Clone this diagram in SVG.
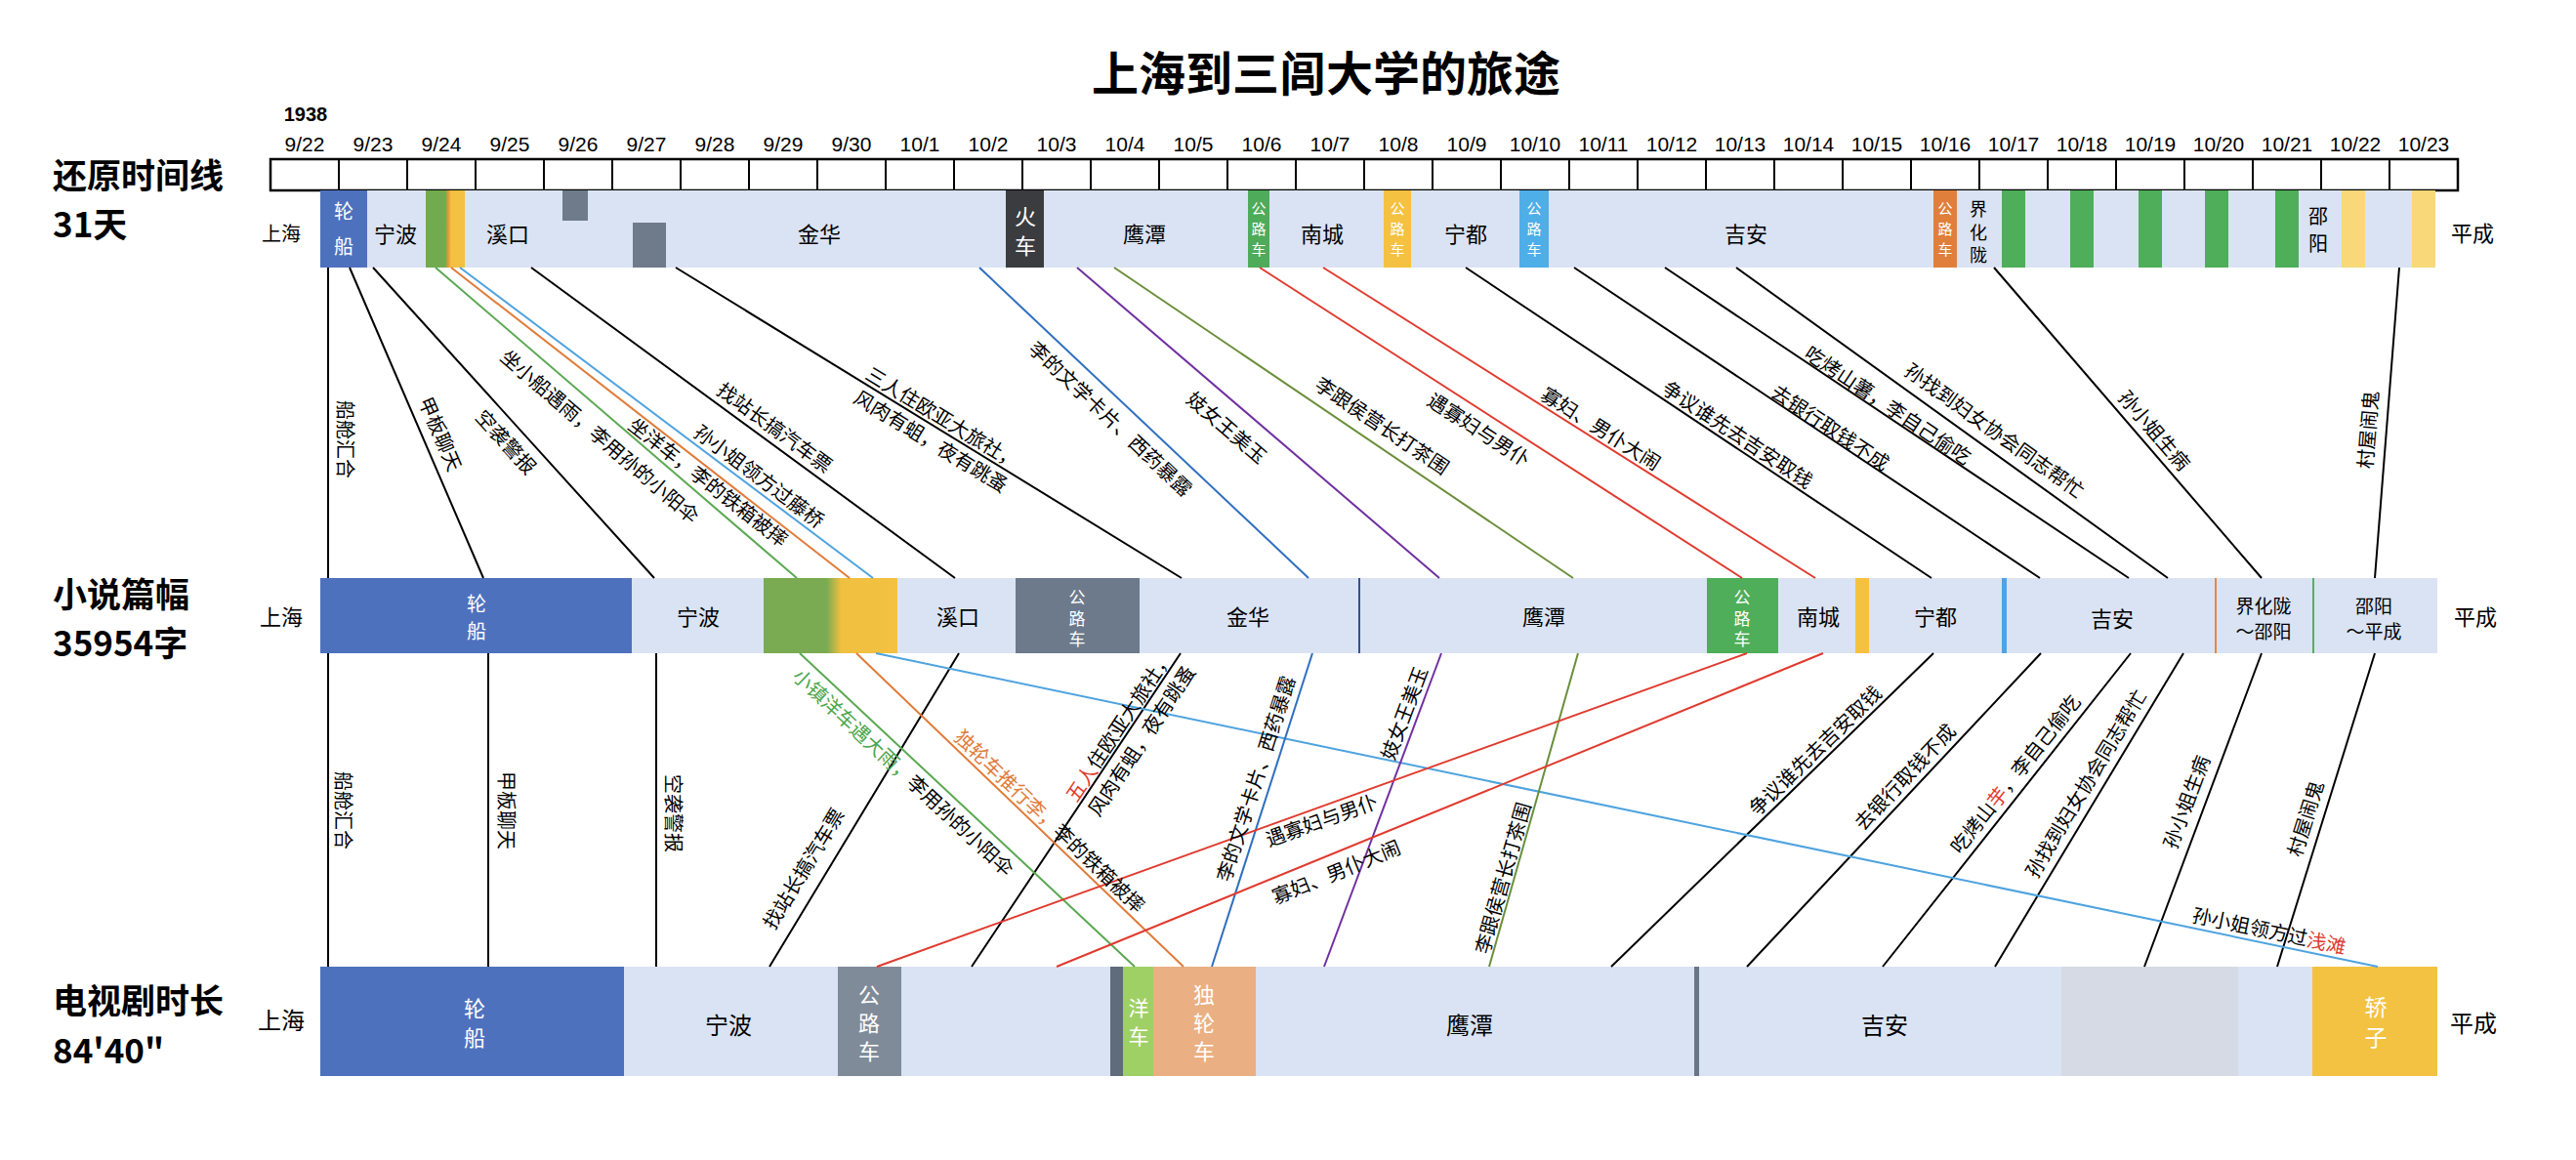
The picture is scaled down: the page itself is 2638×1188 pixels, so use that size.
<svg xmlns="http://www.w3.org/2000/svg" width="2638" height="1188" viewBox="0 0 2638 1188">
<style>
text{font-family:"Noto Sans CJK SC","Liberation Sans",sans-serif;fill:#000}
.c{text-anchor:middle;dominant-baseline:central}
.l{font-size:20px;text-anchor:middle;dominant-baseline:central}
.p{font-size:22px}
.w{fill:#fff}
.d{font-family:"Liberation Sans",sans-serif;font-size:21px}
.h{font-size:35px;font-weight:700;dominant-baseline:central}
.band{fill:#dae3f3}
.k{stroke:#000;stroke-width:2;fill:none}
.gr{stroke:#5aa852;stroke-width:2;fill:none}
.or{stroke:#e07b39;stroke-width:2;fill:none}
.lb{stroke:#4ea3df;stroke-width:2;fill:none}
.db{stroke:#2f6fbf;stroke-width:2;fill:none}
.pu{stroke:#7030a0;stroke-width:2;fill:none}
.ol{stroke:#6b8e3a;stroke-width:2;fill:none}
.rd{stroke:#e03a2e;stroke-width:2;fill:none}
.red{fill:#e03a2e}
</style>
<defs>
<linearGradient id="gy" x1="0" x2="1" y1="0" y2="0">
<stop offset="0" stop-color="#72ab4f"/><stop offset="0.5" stop-color="#72ab4f"/><stop offset="0.58" stop-color="#e39a3a"/><stop offset="0.65" stop-color="#f4c142"/><stop offset="1" stop-color="#f4c142"/>
</linearGradient>
<linearGradient id="gy2" x1="0" x2="1" y1="0" y2="0">
<stop offset="0" stop-color="#7aab52"/><stop offset="0.47" stop-color="#7aab52"/><stop offset="0.58" stop-color="#f0c040"/><stop offset="1" stop-color="#f4c142"/>
</linearGradient>
</defs>
<rect width="2638" height="1188" fill="#fff"/>

<g id="title"><text x="1358" y="72" class="c" style="font-size:48px;font-weight:700">上海到三闾大学的旅途</text></g>

<g id="row-labels">
<text x="54" y="177" class="h">还原时间线</text>
<text x="54" y="227" class="h">31天</text>
<text x="54" y="606" class="h">小说篇幅</text>
<text x="54" y="656" class="h">35954字</text>
<text x="54" y="1022" class="h">电视剧时长</text>
<text x="54" y="1073" class="h">84'40"</text>
</g>

<g id="timeline-axis">
<text x="313" y="117" class="c" style="font-family:'Liberation Sans',sans-serif;font-size:20px;font-weight:700">1938</text>
<rect x="277" y="163" width="2240" height="32" fill="#fff" stroke="#000" stroke-width="2.5"/>
<path class="k" d="M347 163V195M417 163V195M487 163V195M557 163V195M627 163V195M697 163V195M767 163V195M837 163V195M907 163V195M977 163V195M1047 163V195M1117 163V195M1187 163V195M1257 163V195M1327 163V195M1397 163V195M1467 163V195M1537 163V195M1607 163V195M1677 163V195M1747 163V195M1817 163V195M1887 163V195M1957 163V195M2027 163V195M2097 163V195M2167 163V195M2237 163V195M2307 163V195M2377 163V195M2447 163V195"/>
<g>
<text x="312" y="147" class="c d">9/22</text><text x="382" y="147" class="c d">9/23</text><text x="452" y="147" class="c d">9/24</text><text x="522" y="147" class="c d">9/25</text><text x="592" y="147" class="c d">9/26</text><text x="662" y="147" class="c d">9/27</text><text x="732" y="147" class="c d">9/28</text><text x="802" y="147" class="c d">9/29</text><text x="872" y="147" class="c d">9/30</text>
<text x="942" y="147" class="c d">10/1</text><text x="1012" y="147" class="c d">10/2</text><text x="1082" y="147" class="c d">10/3</text><text x="1152" y="147" class="c d">10/4</text><text x="1222" y="147" class="c d">10/5</text><text x="1292" y="147" class="c d">10/6</text><text x="1362" y="147" class="c d">10/7</text><text x="1432" y="147" class="c d">10/8</text><text x="1502" y="147" class="c d">10/9</text><text x="1572" y="147" class="c d">10/10</text><text x="1642" y="147" class="c d">10/11</text><text x="1712" y="147" class="c d">10/12</text><text x="1782" y="147" class="c d">10/13</text><text x="1852" y="147" class="c d">10/14</text><text x="1922" y="147" class="c d">10/15</text><text x="1992" y="147" class="c d">10/16</text><text x="2062" y="147" class="c d">10/17</text><text x="2132" y="147" class="c d">10/18</text><text x="2202" y="147" class="c d">10/19</text><text x="2272" y="147" class="c d">10/20</text><text x="2342" y="147" class="c d">10/21</text><text x="2412" y="147" class="c d">10/22</text><text x="2482" y="147" class="c d">10/23</text>
</g>
</g>

<g id="row1-timeline">
<rect class="band" x="328" y="195" width="2166" height="79"/>
<text x="288" y="238" class="c" style="font-size:20px">上海</text>
<rect x="328" y="195" width="48" height="79" fill="#4e71be"/>
<text class="c w" style="font-size:20px"><tspan x="352" y="215">轮</tspan><tspan x="352" y="251">船</tspan></text>
<text x="405" y="238" class="c p">宁波</text>
<rect x="436" y="195" width="40" height="79" fill="url(#gy)"/>
<text x="520" y="238" class="c p">溪口</text>
<rect x="576" y="195" width="26" height="31" fill="#6f7b8a"/>
<rect x="648" y="228" width="34" height="46" fill="#6f7b8a"/>
<text x="839" y="238" class="c p">金华</text>
<rect x="1030" y="195" width="39" height="79" fill="#3b3c40"/>
<text class="c w p"><tspan x="1050" y="220">火</tspan><tspan x="1050" y="250">车</tspan></text>
<text x="1172" y="238" class="c p">鹰潭</text>
<rect x="1278" y="195" width="22" height="79" fill="#4eab5a"/>
<text class="c w" style="font-size:15px"><tspan x="1289" y="212">公</tspan><tspan x="1289" y="233">路</tspan><tspan x="1289" y="254">车</tspan></text>
<text x="1354" y="238" class="c p">南城</text>
<rect x="1417" y="195" width="28" height="79" fill="#f5c140"/>
<text class="c w" style="font-size:15px"><tspan x="1431" y="212">公</tspan><tspan x="1431" y="233">路</tspan><tspan x="1431" y="254">车</tspan></text>
<text x="1501" y="238" class="c p">宁都</text>
<rect x="1556" y="195" width="30" height="79" fill="#4eaee8"/>
<text class="c w" style="font-size:15px"><tspan x="1571" y="212">公</tspan><tspan x="1571" y="233">路</tspan><tspan x="1571" y="254">车</tspan></text>
<text x="1788" y="238" class="c p">吉安</text>
<rect x="1980" y="195" width="24" height="79" fill="#e07f3c"/>
<text class="c w" style="font-size:15px"><tspan x="1992" y="212">公</tspan><tspan x="1992" y="233">路</tspan><tspan x="1992" y="254">车</tspan></text>
<text class="c" style="font-size:18px"><tspan x="2026" y="213">界</tspan><tspan x="2026" y="237">化</tspan><tspan x="2026" y="260">陇</tspan></text>
<rect x="2050" y="195" width="24" height="79" fill="#4fae5a"/>
<rect x="2120" y="195" width="24" height="79" fill="#4fae5a"/>
<rect x="2190" y="195" width="24" height="79" fill="#4fae5a"/>
<rect x="2258" y="195" width="24" height="79" fill="#4fae5a"/>
<rect x="2330" y="195" width="24" height="79" fill="#4fae5a"/>
<text class="c" style="font-size:20px"><tspan x="2374" y="220">邵</tspan><tspan x="2374" y="248">阳</tspan></text>
<rect x="2398" y="195" width="24" height="79" fill="#f8d878"/>
<rect x="2470" y="195" width="24" height="79" fill="#f8d878"/>
<text x="2532" y="237" class="c" style="font-size:22px">平成</text>
</g>

<g id="row2-novel">
<rect class="band" x="328" y="592" width="2168" height="77"/>
<text x="288" y="630" class="c p">上海</text>
<rect x="328" y="592" width="319" height="77" fill="#4e71be"/>
<text class="c w" style="font-size:20px"><tspan x="488" y="617">轮</tspan><tspan x="488" y="645">船</tspan></text>
<text x="715" y="630" class="c p">宁波</text>
<rect x="782" y="592" width="137" height="77" fill="url(#gy2)"/>
<text x="981" y="630" class="c p">溪口</text>
<rect x="1040" y="592" width="127" height="77" fill="#6c7a8b"/>
<text class="c w" style="font-size:17px"><tspan x="1103" y="610">公</tspan><tspan x="1103" y="632">路</tspan><tspan x="1103" y="653">车</tspan></text>
<text x="1278" y="630" class="c p">金华</text>
<rect x="1391" y="592" width="2" height="77" fill="#34508e"/>
<text x="1581" y="630" class="c p">鹰潭</text>
<rect x="1748" y="592" width="73" height="77" fill="#4fae5a"/>
<text class="c w" style="font-size:17px"><tspan x="1784" y="610">公</tspan><tspan x="1784" y="632">路</tspan><tspan x="1784" y="653">车</tspan></text>
<text x="1862" y="630" class="c p">南城</text>
<rect x="1900" y="592" width="14" height="77" fill="#f5c140"/>
<text x="1982" y="630" class="c p">宁都</text>
<rect x="2050" y="592" width="5" height="77" fill="#4ea3e4"/>
<text x="2163" y="632" class="c p">吉安</text>
<rect x="2268" y="592" width="2" height="77" fill="#e9873e"/>
<text class="c" style="font-size:19px"><tspan x="2318" y="619">界化陇</tspan><tspan x="2318" y="645">～邵阳</tspan></text>
<rect x="2368" y="592" width="2" height="77" fill="#5aae5e"/>
<text class="c" style="font-size:19px"><tspan x="2431" y="619">邵阳</tspan><tspan x="2431" y="645">～平成</tspan></text>
<text x="2535" y="630" class="c p">平成</text>
</g>

<g id="row3-tv">
<rect class="band" x="328" y="990" width="2168" height="112"/>
<text x="288" y="1043" class="c" style="font-size:24px">上海</text>
<rect x="328" y="990" width="311" height="112" fill="#4e71be"/>
<text class="c w" style="font-size:22px"><tspan x="486" y="1031">轮</tspan><tspan x="486" y="1061">船</tspan></text>
<text x="746" y="1048" class="c" style="font-size:24px">宁波</text>
<rect x="858" y="990" width="65" height="112" fill="#808b99"/>
<text class="c w" style="font-size:22px"><tspan x="890" y="1017">公</tspan><tspan x="890" y="1046">路</tspan><tspan x="890" y="1075">车</tspan></text>
<rect x="1137" y="990" width="13" height="112" fill="#606b7b"/>
<rect x="1150" y="990" width="31" height="112" fill="#9fd066"/>
<text class="c w" style="font-size:21px"><tspan x="1166" y="1031">洋</tspan><tspan x="1166" y="1060">车</tspan></text>
<rect x="1181" y="990" width="105" height="112" fill="#eab083"/>
<text class="c w" style="font-size:22px"><tspan x="1233" y="1017">独</tspan><tspan x="1233" y="1046">轮</tspan><tspan x="1233" y="1075">车</tspan></text>
<text x="1505" y="1048" class="c" style="font-size:24px">鹰潭</text>
<rect x="1735" y="990" width="5" height="112" fill="#6a7585"/>
<text x="1930" y="1048" class="c" style="font-size:24px">吉安</text>
<rect x="2111" y="990" width="181" height="112" fill="#d5dae4"/>
<rect x="2368" y="990" width="128" height="112" fill="#f4c242"/>
<text class="c w" style="font-size:23px"><tspan x="2433" y="1030">轿</tspan><tspan x="2433" y="1061">子</tspan></text>
<text x="2533" y="1046" class="c" style="font-size:24px">平成</text>
</g>

<g id="connectors">
<path class="k" d="M336 274L336 592M358 274L495 592M382 274L670 592M544 274L978 592M692 274L1210 592M1501 274L1978 592M1612 274L2089 592M1705 274L2180 592M1778 274L2220 592M2042 274L2316 592M2457 274L2432 592"/>
<path class="gr" d="M446 274L816 592"/>
<path class="or" d="M462 274L870 592"/>
<path class="lb" d="M471 274L894 592"/>
<path class="db" d="M1003 274L1340 592"/>
<path class="pu" d="M1103 274L1474 592"/>
<path class="ol" d="M1141 274L1611 592"/>
<path class="rd" d="M1290 274L1784 592M1355 274L1859 592"/>
<path class="k" d="M336 669L336 990M500 669L500 990M672 669L672 990M982 669L788 990M1209 669L995 990M1980 669L1650 990M2090 669L1789 990M2182 669L1928 990M2236 669L2043 990M2316 669L2196 990M2432 669L2332 990"/>
<path class="gr" d="M819 669L1162 990"/>
<path class="or" d="M877 669L1212 990"/>
<path class="lb" d="M897 669L2435 990"/>
<path class="db" d="M1344 669L1241 990"/>
<path class="pu" d="M1476 669L1356 990"/>
<path class="ol" d="M1616 669L1525 990"/>
<path class="rd" d="M1789 669L898 990M1867 669L1082 990"/>
</g>

<g id="upper-labels">
<text x="354" y="450" class="l" transform="rotate(90 354 450)">船舱汇合</text>
<text x="452" y="444" class="l" transform="rotate(66.7 452 444)">甲板聊天</text>
<text x="519" y="452" class="l" transform="rotate(47.8 519 452)">空袭警报</text>
<text x="615" y="446" class="l" transform="rotate(40.7 615 446)">坐小船遇雨，李用孙的小阳伞</text>
<text x="726" y="493" class="l" transform="rotate(37.9 726 493)">坐洋车，李的铁箱被摔</text>
<text x="778" y="487" class="l" transform="rotate(36.9 778 487)">孙小姐领方过藤桥</text>
<text x="794" y="437" class="l" transform="rotate(36.2 794 437)">找站长搞汽车票</text>
<text x="966" y="427" class="l" transform="rotate(31.5 966 427)">三人住欧亚大旅社，</text>
<text x="954" y="451" class="l" transform="rotate(31.5 954 451)">风肉有蛆，夜有跳蚤</text>
<text x="1138" y="428" class="l" transform="rotate(43.3 1138 428)">李的文学卡片、西药暴露</text>
<text x="1257" y="437" class="l" transform="rotate(40.6 1257 437)">妓女王美玉</text>
<text x="1416" y="435" class="l" transform="rotate(34.1 1416 435)">李跟侯营长打茶围</text>
<text x="1515" y="439" class="l" transform="rotate(32.8 1515 439)">遇寡妇与男仆</text>
<text x="1640" y="438" class="l" transform="rotate(32.2 1640 438)">寡妇、男仆大闹</text>
<text x="1780" y="444" class="l" transform="rotate(33.7 1780 444)">争议谁先去吉安取钱</text>
<text x="1875" y="437" class="l" transform="rotate(33.7 1875 437)">去银行取钱不成</text>
<text x="1934" y="414" class="l" transform="rotate(33.8 1934 414)">吃烤山薯，李自己偷吃</text>
<text x="2043" y="440" class="l" transform="rotate(35.7 2043 440)">孙找到妇女协会同志帮忙</text>
<text x="2207" y="440" class="l" transform="rotate(49.3 2207 440)">孙小姐生病</text>
<text x="2424" y="440" class="l" transform="rotate(-85.3 2424 440)">村屋闹鬼</text>
</g>

<g id="lower-labels">
<text x="352" y="830" class="l" transform="rotate(90 352 830)">船舱汇合</text>
<text x="519" y="830" class="l" transform="rotate(90 519 830)">甲板聊天</text>
<text x="690" y="833" class="l" transform="rotate(90 690 833)">空袭警报</text>
<text x="822" y="889" class="l" transform="rotate(-58.9 822 889)">找站长搞汽车票</text>
<text x="926" y="790" class="l" transform="rotate(43.1 926 790)"><tspan style="fill:#4ca64c">小镇洋车遇大雨，</tspan>李用孙的小阳伞</text>
<text x="1076" y="840" class="l" transform="rotate(43.8 1076 840)"><tspan style="fill:#e07b39">独轮车推行李，</tspan>李的铁箱被摔</text>
<text x="1145" y="743" class="l" transform="rotate(-56.3 1145 743)"><tspan class="red">五人</tspan>住欧亚大旅社，</text>
<text x="1168" y="758" class="l" transform="rotate(-56.3 1168 758)">风肉有蛆，夜有跳蚤</text>
<text x="1285" y="797" class="l" transform="rotate(-72.2 1285 797)">李的文学卡片、西药暴露</text>
<text x="1437" y="730" class="l" transform="rotate(-69.5 1437 730)">妓女王美玉</text>
<text x="1353" y="839" class="l" transform="rotate(-19.8 1353 839)">遇寡妇与男仆</text>
<text x="1368" y="892" class="l" transform="rotate(-22.2 1368 892)">寡妇、男仆大闹</text>
<text x="1538" y="899" class="l" transform="rotate(-74.2 1538 899)">李跟侯营长打茶围</text>
<text x="1858" y="768" class="l" transform="rotate(-44.2 1858 768)">争议谁先去吉安取钱</text>
<text x="1950" y="795" class="l" transform="rotate(-46.8 1950 795)">去银行取钱不成</text>
<text x="2063" y="792" class="l" transform="rotate(-51.6 2063 792)">吃烤山<tspan class="red">芋</tspan>，李自己偷吃</text>
<text x="2135" y="802" class="l" transform="rotate(-59 2135 802)">孙找到妇女协会同志帮忙</text>
<text x="2238" y="821" class="l" transform="rotate(-69.5 2238 821)">孙小姐生病</text>
<text x="2360" y="838" class="l" transform="rotate(-72.7 2360 838)">村屋闹鬼</text>
<text x="2324" y="952" class="l" transform="rotate(11.8 2324 952)">孙小姐领方过<tspan class="red">浅滩</tspan></text>
</g>
</svg>
